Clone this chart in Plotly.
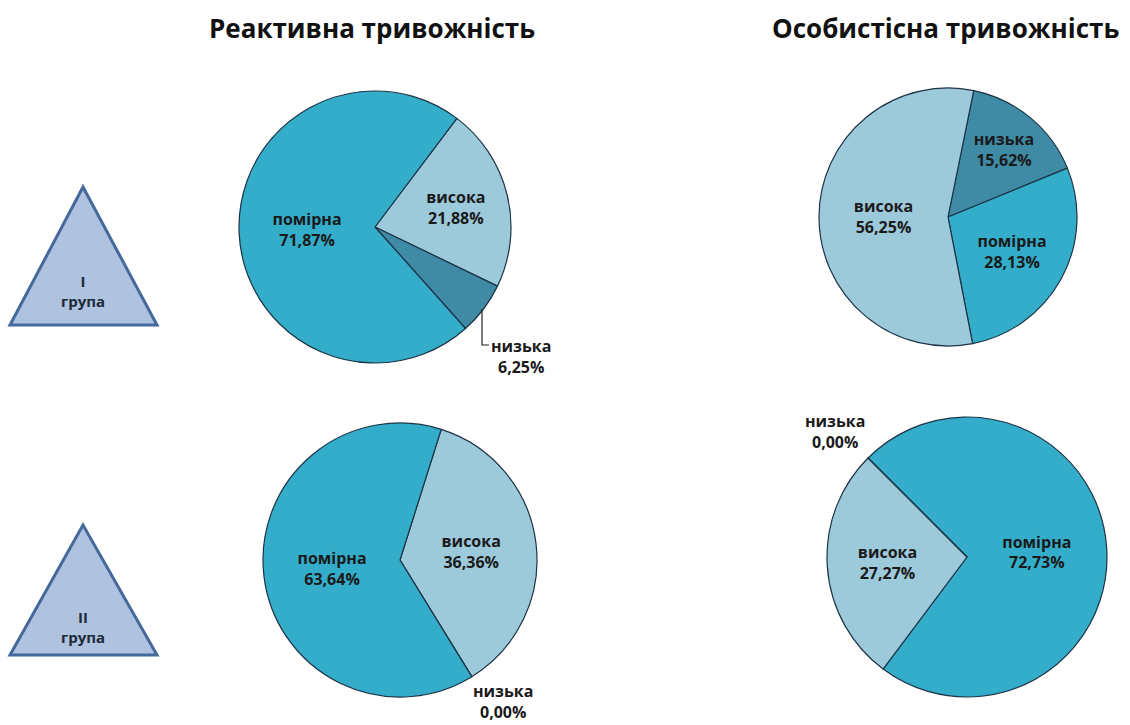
import plotly.graph_objects as go

W, H = 1130, 725

# ---------------- data ----------------
titles = ["Реактивна тривожність", "Особистісна тривожність"]
group_names = ["I", "II"]
group_word = "група"

# Реактивна тривожність, I група
react1_labels = ["висока", "низька", "помірна"]
react1_values = [21.88, 6.25, 71.87]
# Особистісна тривожність, I група
pers1_labels = ["низька", "помірна", "висока"]
pers1_values = [15.62, 28.13, 56.25]
# Реактивна тривожність, II група
react2_labels = ["висока", "низька", "помірна"]
react2_values = [36.36, 0.00, 63.64]
# Особистісна тривожність, II група
pers2_labels = ["помірна", "висока", "низька"]
pers2_values = [72.73, 27.27, 0.00]

# ---------------- style ----------------
colors = {"помірна": "#33ADCA", "висока": "#9DCADB", "низька": "#3F8BA6"}
FONT = "Open Sans"
TXT = "#1a1a1a"


def px(x):
    return x / W


def py(y):
    return 1 - y / H


# (labels, values, center_x, center_y, radius, rotation, outside label slice, outside label pos)
pies = [
    (react1_labels, react1_values, 375, 227, 136, 37, "низька", (521, 356)),
    (pers1_labels, pers1_values, 948, 217, 129, 11.5, None, None),
    (react2_labels, react2_values, 400, 560, 137, 17.5, "низька", (503, 701)),
    (pers2_labels, pers2_values, 967, 557, 140, -45, "низька", (835, 432)),
]

fig = go.Figure()
annotations = []

for labels, values, cx, cy, r, rot, out_lab, out_pos in pies:
    positions = ["none" if lab == out_lab else "inside" for lab in labels]
    fig.add_trace(go.Pie(
        labels=labels,
        values=values,
        sort=False,
        direction="clockwise",
        rotation=rot,
        marker=dict(colors=[colors[l] for l in labels],
                    line=dict(color="#1d3346", width=1.2)),
        texttemplate="%{label}<br>%{value:.2f}%",
        textposition=positions,
        insidetextorientation="horizontal",
        textfont=dict(family=FONT, size=16, color=TXT, weight="bold"),
        domain=dict(x=[px(cx - r), px(cx + r)], y=[py(cy + r), py(cy - r)]),
        hoverinfo="skip",
        showlegend=False,
    ))
    if out_lab is not None:
        v = values[labels.index(out_lab)]
        annotations.append(dict(
            x=px(out_pos[0]), y=py(out_pos[1]), xref="paper", yref="paper",
            text=f"{out_lab}<br>{v:.2f}%".replace(".", ","),
            showarrow=False, xanchor="center", yanchor="middle",
            font=dict(family=FONT, size=16, color=TXT, weight="bold"),
        ))

# titles
for t, x in zip(titles, [372, 946]):
    annotations.append(dict(
        x=px(x), y=py(28), xref="paper", yref="paper", text=t,
        showarrow=False, xanchor="center", yanchor="middle",
        font=dict(family=FONT, size=26, color="#111111", weight="bold"),
    ))

shapes = []
# group triangles: (apex y, base y, text centre y)
for name, (top, base, ty) in zip(group_names, [(187, 325, 291), (525, 655, 627)]):
    path = (f"M {px(10)},{py(base)} L {px(83)},{py(top)} "
            f"L {px(157)},{py(base)} Z")
    shapes.append(dict(type="path", path=path, xref="paper", yref="paper",
                       fillcolor="#AFC3E0", line=dict(color="#44699A", width=3)))
    annotations.append(dict(
        x=px(83), y=py(ty), xref="paper", yref="paper",
        text=f"{name}<br>{group_word}", showarrow=False,
        xanchor="center", yanchor="middle",
        font=dict(family=FONT, size=15, color="#1e2a3a", weight="bold"),
    ))

# leader line for the small slice label of the first pie
shapes.append(dict(type="path", xref="paper", yref="paper",
                   path=f"M {px(482)},{py(309)} L {px(482)},{py(345)} L {px(489)},{py(345)}",
                   line=dict(color="#222222", width=1.2)))

fig.update_layout(
    width=W, height=H,
    margin=dict(l=0, r=0, t=0, b=0),
    paper_bgcolor="white", plot_bgcolor="white",
    separators=", ",
    annotations=annotations,
    shapes=shapes,
    showlegend=False,
)

fig.write_html("out.html",
               config={"displayModeBar": False},
               post_script="document.body.style.margin='0';document.body.style.overflow='hidden';")
